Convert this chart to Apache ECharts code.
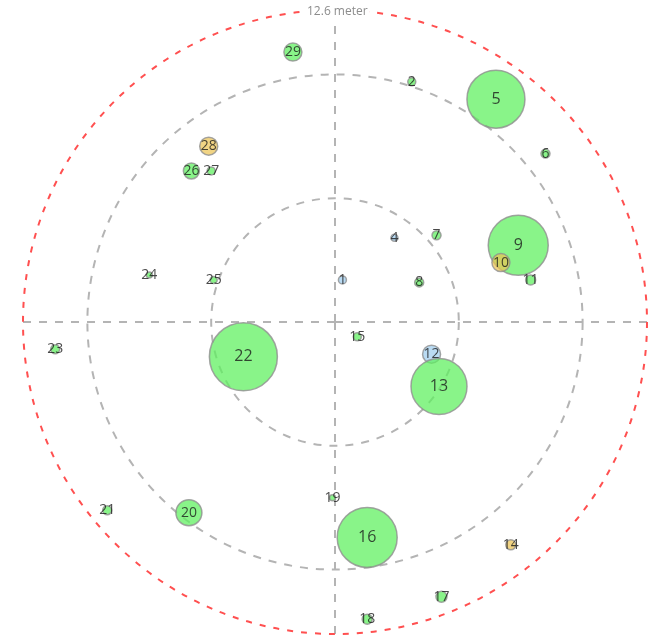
<!DOCTYPE html>
<html>
<head>
<meta charset="utf-8">
<script src="https://cdn.jsdelivr.net/npm/echarts@6/dist/echarts.min.js"></script>
<style>html,body{margin:0;padding:0;background:#fff;}#c{width:657px;height:637px;}</style>
</head>
<body>
<div id="c"></div>
<script>
// Point labels
var labels = ['1','2','3','4','5','6','7','8','9','10','11','12','13','14','15','16','17','18','19','20','21','22','23','24','25','26','27','28','29'];
// East offset (meter)
var eastM = [0.3, 3.1, 6.5, 2.4, 6.5, 8.5, 4.1, 3.4, 7.4, 6.7, 7.9, 3.9, 4.2, 7.1, 0.9, 1.3, 4.3, 1.3, -0.1, -5.9, -9.2, -3.7, -11.3, -7.5, -4.9, -5.8, -5.0, -5.1, -1.7];
// North offset (meter)
var northM = [1.7, 9.7, 10.9, 3.4, 9.0, 6.8, 3.5, 1.6, 3.1, 2.4, 1.7, -1.3, -2.6, -9.0, -0.6, -8.7, -11.1, -12.0, -7.1, -7.7, -7.6, -1.4, -1.1, 1.9, 1.7, 6.1, 6.1, 7.1, 10.9];
// Bubble magnitude
var magnitude = [8, 8, 16, 7, 58, 9, 9, 9, 60, 18, 10, 18, 56, 10, 8, 60, 11, 10, 6, 26, 9, 68, 9, 6, 7, 16, 8, 18, 18];
// Category: g = green, b = blue, y = yellow
var category = ['b','g','b','b','g','g','g','g','g','y','g','b','g','y','g','g','g','g','g','g','g','g','g','g','g','g','g','y','g'];
// Range
var maxRadius = 12.6;
var ringStep = 5;
var rangeLabel = '12.6 meter';

var colorMap = { g: 'rgba(95,240,95,0.92)', b: 'rgba(160,205,238,0.9)', y: 'rgba(235,195,85,0.9)' };

var data = labels.map(function (lab, i) {
  var x = eastM[i], y = northM[i];
  var r = Math.sqrt(x * x + y * y);
  var a = Math.atan2(y, x) * 180 / Math.PI;
  if (a < 0) a += 360;
  return {
    name: lab,
    value: [r, a, magnitude[i]],
    itemStyle: { color: colorMap[category[i]] },
    label: { fontSize: magnitude[i] > 40 ? 16 : 14 }
  };
});

var chart = echarts.init(document.getElementById('c'));
chart.setOption({
  animation: false,
  backgroundColor: '#fff',
  polar: { center: [335, 322], radius: 312 },
  angleAxis: {
    type: 'value', min: 0, max: 360, interval: 90, startAngle: 0, clockwise: false,
    axisLine: { show: true, lineStyle: { color: '#ff5050', width: 2, type: [6, 8] } },
    axisTick: { show: false }, axisLabel: { show: false },
    splitLine: { show: true, lineStyle: { color: '#b4b4b4', width: 2, type: [8, 8] } }
  },
  radiusAxis: {
    type: 'value', min: 0, max: maxRadius, interval: ringStep,
    axisLine: { show: false }, axisTick: { show: false }, axisLabel: { show: false },
    splitLine: { show: true, lineStyle: { color: ['#b4b4b4', '#b4b4b4', '#b4b4b4', 'rgba(0,0,0,0)'], width: 2, type: [8, 8] } }
  },
  series: [{
    type: 'scatter',
    coordinateSystem: 'polar',
    data: data,
    symbolSize: function (v) { return v[2]; },
    itemStyle: { borderColor: '#8f8f8f', borderWidth: 1.5 },
    label: {
      show: true, position: 'inside', formatter: '{b}',
      color: '#1a1a1a', fontFamily: 'Open Sans, Liberation Sans, sans-serif'
    }
  }],
  graphic: [{
    type: 'text', left: 335 - 30, top: 5, z: 100,
    style: { text: rangeLabel, fill: '#8c8c8c', font: '12px "Open Sans", sans-serif', backgroundColor: '#fff', padding: [1, 2] }
  }]
});
</script>
</body>
</html>
